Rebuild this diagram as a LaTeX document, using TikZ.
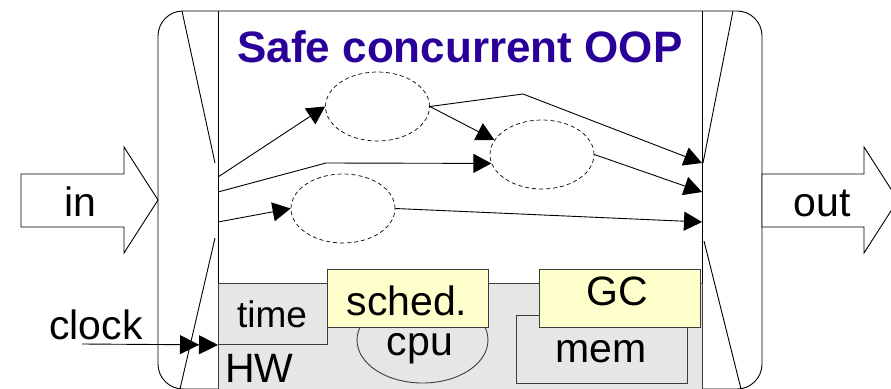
\documentclass[tikz,border=0pt]{standalone}
\usepackage{fontspec}
\setmainfont{Liberation Sans}
\usetikzlibrary{arrows.meta,shapes.geometric}
\definecolor{titleblue}{RGB}{43,0,153}
\definecolor{hwgray}{RGB}{230,230,230}
\definecolor{swyellow}{RGB}{255,255,204}
\definecolor{edgegray}{RGB}{60,60,60}

\begin{document}
\begin{tikzpicture}[x=1pt,y=-1pt,
  frame/.style={draw=black, line width=0.9pt},
  flow/.style={draw=black, line width=0.9pt, -{Triangle[length=18pt,width=19pt]}},
  task/.style={ellipse, draw=black, dash pattern=on 4pt off 3pt, line width=0.7pt,
    minimum width=104pt, minimum height=69pt, inner sep=0pt},
  hwbox/.style={draw=edgegray, fill=hwgray, line width=0.9pt},
  swbox/.style={draw=edgegray, fill=swyellow, line width=0.9pt},
  lbl/.style={font=\fontsize{41}{48}\selectfont, inner sep=0pt, anchor=base},
]
\useasboundingbox (0,0) rectangle (891,388);
\clip (0,0) rectangle (891,388);

% outer component frame
\draw[frame, rounded corners=25pt] (158,11) rectangle (762,389);
\draw[frame] (218,11) -- (218,400);
\draw[frame] (702,11) -- (702,400);

% input and output gates
\draw[frame] (182,11) -- (215,163);
\draw[frame] (215,238) -- (180,389);
\draw[frame] (733,11) -- (703,163);
\draw[frame] (704,241) -- (741,389);

% block arrows for input and output
\draw[frame, fill=white] (21,174) -- (124,174) -- (124,147) -- (158,200)
  -- (124,253) -- (124,227) -- (21,227) -- cycle;
\draw[frame, fill=white] (762,174) -- (864,174) -- (864,147) -- (898,200)
  -- (864,253) -- (864,227) -- (762,227) -- cycle;
\node[lbl] (inlbl) at (80,216) {in};
\node[lbl] (outlbl) at (822,216) {out};

% hardware layer
\node[hwbox, anchor=north west, minimum width=484pt, minimum height=120pt, inner sep=0pt]
  (hw) at (218,283) {};
\node[hwbox, anchor=north west, minimum width=109pt, minimum height=61pt, inner sep=0pt]
  (time) at (218,283) {};
\node[hwbox, ellipse, minimum width=131pt, minimum height=86pt, inner sep=0pt]
  (cpu) at (422.5,340) {};
\node[hwbox, anchor=north west, minimum width=171pt, minimum height=68pt, inner sep=0pt]
  (mem) at (516,315) {};
\node[swbox, anchor=north west, minimum width=161pt, minimum height=58pt, inner sep=0pt]
  (sched) at (327,269) {};
\node[swbox, anchor=north west, minimum width=161pt, minimum height=58pt, inner sep=0pt]
  (gc) at (539,269) {};

\node[lbl, font=\fontsize{37}{44}\selectfont] (timelbl) at (272,327) {time};
\node[lbl] (schedlbl) at (407,315) {sched.};
\node[lbl] (cpulbl) at (420,355) {cpu};
\node[lbl] (memlbl) at (601,362) {mem};
\node[lbl] (gclbl) at (617,305) {GC};
\node[lbl, anchor=base west] (hwlbl) at (225,382) {HW};

% title
\node[lbl, font=\bfseries\fontsize{44}{50}\selectfont, text=titleblue] (title)
  at (460,62) {Safe concurrent OOP};

% concurrent objects
\node[task] (e1) at (377.5,106.5) {};
\node[task] (e2) at (542,154.5) {};
\node[task] (e3) at (343,208.5) {};

% gate ports
\coordinate (l1) at (218,177);
\coordinate (l2) at (218,192);
\coordinate (l3) at (218,222);
\coordinate (r1) at (702,163);
\coordinate (r2) at (702,192);
\coordinate (r3) at (702,222);

% message flow
\draw[flow] (l1) -- (e1.west);
\draw[flow] (l2) -- (326,163) -- (e2.190);
\draw[flow] (l3) -- (e3.west);
\draw[flow] (e1.east) -- (523,94) -- (r1);
\draw[flow] (e1.east) -- (e2.163);
\draw[flow] (e2.east) -- (r2);
\draw[flow] (e3.east) -- (r3);

% clock input
\node[lbl] (clocklbl) at (96,339) {clock};
\coordinate (clk) at (82,344);
\draw[draw=black, line width=0.9pt,
  -{Triangle[length=19pt,width=19pt]Triangle[length=19pt,width=19pt]}]
  (clk) -- (time.south west);
\end{tikzpicture}
\end{document}
